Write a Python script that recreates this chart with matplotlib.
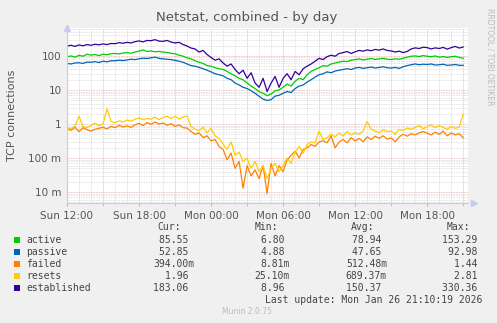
import numpy as np
import matplotlib
matplotlib.use("Agg")
import matplotlib.pyplot as plt
from matplotlib.patches import Rectangle
from matplotlib.ticker import FixedLocator, FuncFormatter

# values every 20 minutes, starting Sun 12:00
established = [196, 205, 190, 210, 198, 215, 205, 220, 212, 225, 215, 232,
               228, 245, 236, 250, 240, 262, 275, 258, 285, 280, 300, 272,
               268, 285, 255, 240, 250, 215, 195, 170, 160, 130, 145, 110,
               90, 75, 82, 62, 50, 58, 40, 30, 38, 22, 32, 16,
               12, 22, 9, 16, 25, 12, 22, 30, 20, 35, 28, 42,
               50, 58, 70, 85, 78, 95, 105, 98, 118, 125, 135, 118,
               132, 145, 138, 150, 142, 155, 148, 160, 145, 140, 130, 138,
               125, 135, 160, 172, 165, 180, 175, 160, 172, 165, 178, 158,
               175, 190, 170, 183]
active = [95, 100, 92, 104, 98, 112, 105, 110, 102, 112, 108, 116,
          118, 114, 122, 125, 120, 130, 138, 150, 135, 140, 132, 136,
          130, 126, 120, 115, 105, 98, 88, 82, 72, 65, 60, 52,
          50, 45, 42, 40, 35, 30, 26, 22, 20, 16, 13, 11,
          9, 8.0, 6.8, 7.6, 9.5, 10, 12, 15, 13, 18, 22, 20,
          28, 35, 40, 45, 52, 50, 58, 62, 66, 70, 68, 75,
          78, 82, 76, 80, 84, 79, 82, 85, 80, 78, 82, 80,
          85, 92, 98, 100, 96, 102, 98, 95, 100, 92, 96, 90,
          95, 98, 90, 85.55]
passive = [60, 58, 62, 63, 60, 66, 65, 68, 64, 70, 67, 72,
           72, 75, 73, 76, 80, 78, 82, 86, 84, 88, 92, 85,
           82, 80, 78, 74, 70, 65, 58, 52, 50, 46, 42, 38,
           34, 30, 28, 26, 22, 20, 16, 14, 12, 11, 9.5, 8,
           6.5, 5.4, 4.9, 5.2, 6.6, 7, 8, 9, 8.4, 11, 13, 14,
           17, 20, 24, 28, 30, 34, 32, 36, 38, 40, 42, 40,
           44, 46, 43, 45, 47, 44, 46, 48, 45, 44, 46, 43,
           48, 52, 55, 58, 55, 57, 56, 58, 54, 55, 57, 53,
           54, 56, 53, 52.85]
failed = [0.72, 0.65, 0.80, 0.60, 0.78, 0.68, 0.62, 0.70, 0.75, 0.80, 0.72, 0.85,
          0.78, 0.92, 0.82, 0.88, 0.80, 0.95, 1.05, 0.90, 1.10, 0.98, 1.15, 1.00,
          1.07, 0.92, 1.02, 0.85, 0.95, 0.78, 0.76, 0.60, 0.50, 0.55, 0.40, 0.45,
          0.32, 0.35, 0.22, 0.18, 0.09, 0.14, 0.05, 0.08, 0.013, 0.06, 0.03, 0.045,
          0.025, 0.06, 0.009, 0.07, 0.03, 0.06, 0.04, 0.09, 0.12, 0.16, 0.10, 0.18,
          0.20, 0.25, 0.22, 0.30, 0.32, 0.28, 0.45, 0.20, 0.30, 0.35, 0.28, 0.40,
          0.32, 0.38, 0.30, 0.42, 0.35, 0.44, 0.38, 0.45, 0.36, 0.39, 0.30, 0.42,
          0.50, 0.44, 0.52, 0.48, 0.55, 0.60, 0.54, 0.48, 0.58, 0.50, 0.62, 0.45,
          0.55, 0.48, 0.52, 0.394]
resets = [0.80, 0.72, 0.88, 1.70, 0.85, 0.78, 0.92, 1.05, 0.90, 1.00, 2.81, 1.20,
          1.10, 1.25, 1.15, 1.30, 1.20, 1.40, 1.50, 1.35, 1.45, 1.40, 1.60, 1.35,
          1.55, 1.70, 1.45, 1.70, 1.40, 1.60, 1.75, 0.85, 0.70, 0.65, 0.80, 0.55,
          0.75, 0.45, 0.38, 0.26, 0.18, 0.30, 0.12, 0.15, 0.08, 0.10, 0.05, 0.08,
          0.04, 0.06, 0.0251, 0.05, 0.07, 0.04, 0.06, 0.10, 0.07, 0.15, 0.22, 0.14,
          0.25, 0.30, 0.28, 0.62, 0.35, 0.40, 0.50, 0.42, 0.55, 0.45, 0.60, 0.48,
          0.55, 0.50, 0.62, 1.20, 0.70, 0.62, 0.55, 0.68, 0.60, 0.62, 0.50, 0.70,
          0.65, 0.76, 0.70, 0.80, 0.90, 0.72, 0.85, 0.95, 0.78, 0.90, 0.80, 0.70,
          0.85, 0.75, 0.80, 1.96]

names = ["active", "passive", "failed", "resets", "established"]
colors = ["#00CC00", "#0066B3", "#FF8000", "#FFCC00", "#330099"]
cur = ["85.55 ", "52.85 ", "394.00m", "1.96 ", "183.06 "]
mins = ["6.80 ", "4.88 ", "8.81m", "25.10m", "8.96 "]
avgs = ["78.94 ", "47.65 ", "512.48m", "689.37m", "150.37 "]
maxs = ["153.29 ", "92.98 ", "1.44 ", "2.81 ", "330.36 "]
xtick_labels = ["Sun 12:00", "Sun 18:00", "Mon 00:00", "Mon 06:00", "Mon 12:00", "Mon 18:00"]

hours = np.arange(len(established)) / 3.0

W, H = 497, 323
fig = plt.figure(figsize=(W / 100, H / 100), dpi=100, facecolor="#F0F0F0")
ax = fig.add_axes([67 / W, 120 / H, 401 / W, 175 / H])
ax.set_facecolor("white")


def px(x, y):
    return x / W, 1 - y / H


for series, c in zip([active, passive, failed, resets, established], colors):
    ax.plot(hours, series, color=c, lw=0.9)

ax.set_yscale("log")
ax.set_ylim(0.0048, 660)
ax.set_xlim(0, 33.4)

# grid
for h in np.arange(0, 34, 1):
    col = "#e8b0b0" if h % 3 == 0 else "#d8d8d8"
    ax.axvline(h, color=col, lw=0.6, ls=(0, (1, 1)), zorder=0)
for d in range(-3, 3):
    base = 10.0 ** d
    ax.axhline(base, color="#e8b0b0", lw=0.6, ls=(0, (1, 1)), zorder=0)
    for k in range(2, 10):
        ax.axhline(base * k, color="#d8d8d8", lw=0.6, ls=(0, (1, 1)), zorder=0)

ylabels = {100: "100", 10: "10", 1: "1", 0.1: "100 m", 0.01: "10 m"}
ax.yaxis.set_major_locator(FixedLocator(list(ylabels.keys())))
ax.yaxis.set_minor_locator(FixedLocator([]))
ax.yaxis.set_major_formatter(FuncFormatter(lambda v, p: ylabels.get(round(v, 4), "")))
ax.set_xticks(range(0, 33, 6))
ax.set_xticklabels(xtick_labels)
ax.set_xticks(range(0, 34, 3), minor=True)
ax.tick_params(axis="both", labelsize=7.5, colors="#555555", length=0, pad=4)
ax.tick_params(axis="x", which="both", length=2, color="#e8a0a0", direction="out")

for s in ["top", "right"]:
    ax.spines[s].set_visible(False)
for s in ["left", "bottom"]:
    ax.spines[s].set_color("#c8c8f0")
    ax.spines[s].set_linewidth(0.8)
ax.plot([0], [1], marker="^", color="#c8c8f0", ms=5, transform=ax.transAxes, clip_on=False)
ax.plot([1.015], [0], marker=">", color="#c8c8f0", ms=5, transform=ax.transAxes, clip_on=False)

fig.text(*px(247, 18), "Netstat, combined - by day", ha="center", va="center",
         fontsize=9.5, color="#555555")
fig.text(*px(12, 115), "TCP connections", rotation=90, ha="center", va="center",
         fontsize=8, color="#555555")
fig.text(*px(490, 8), "RRDTOOL / TOBI OETIKER", rotation=270, ha="center", va="top",
         fontsize=5.5, color="#bbbbbb")

mono = dict(family="DejaVu Sans Mono", fontsize=7, color="#444444", va="center")
for x, head in zip([181, 278, 374, 470], ["Cur:", "Min:", "Avg:", "Max:"]):
    fig.text(*px(x, 227), head, ha="right", **mono)
rows_y = [240, 252, 264, 276, 288]
for i, name in enumerate(names):
    y = rows_y[i]
    fig.patches.append(Rectangle(px(14, y + 3), 6 / W, 6 / H, transform=fig.transFigure,
                                 facecolor=colors[i], edgecolor="none"))
    fig.text(*px(26, y), name, ha="left", **mono)
    fig.text(*px(194, y), cur[i], ha="right", **mono)
    fig.text(*px(290, y), mins[i], ha="right", **mono)
    fig.text(*px(387, y), avgs[i], ha="right", **mono)
    fig.text(*px(483, y), maxs[i], ha="right", **mono)
fig.text(*px(482, 300), "Last update: Mon Jan 26 21:10:19 2026", ha="right", **mono)
fig.text(*px(247, 312), "Munin 2.0.75", ha="center", va="center", fontsize=5.5, color="#bbbbbb")

fig.savefig("out.png", dpi=100, facecolor=fig.get_facecolor())
